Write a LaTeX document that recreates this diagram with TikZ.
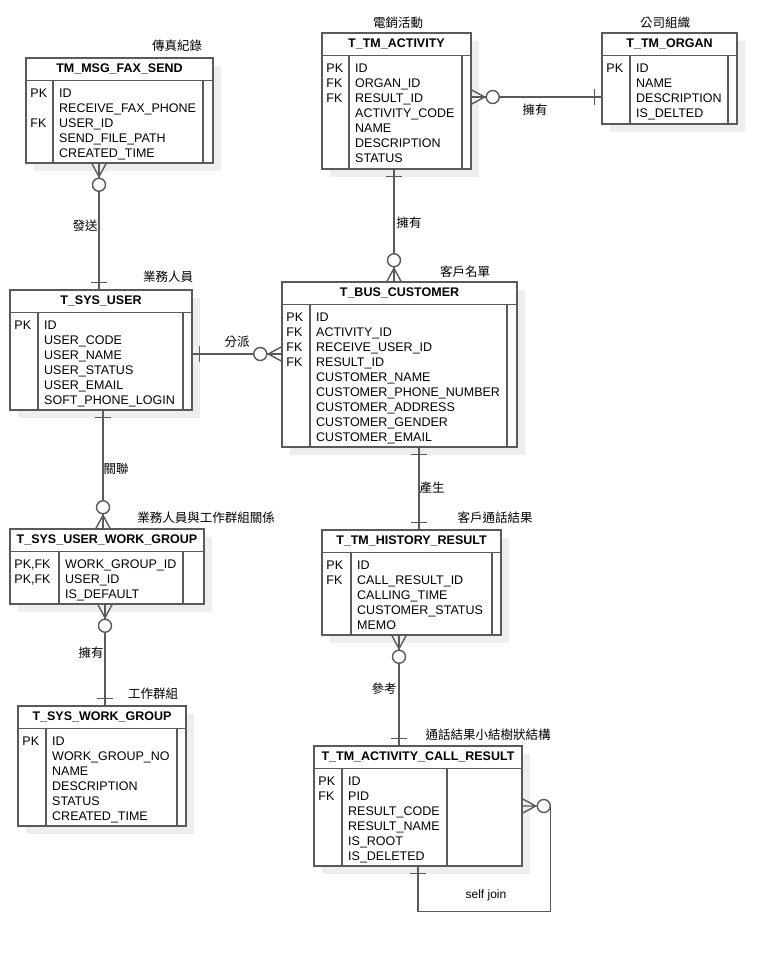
\documentclass[tikz,border=0pt]{standalone}
\usepackage{fontspec}
\setmainfont{Liberation Sans}
\newfontfamily\cjk{Noto Sans CJK TC}
\usetikzlibrary{calc, fit}
\definecolor{erline}{RGB}{90,90,90}
\definecolor{ershadow}{RGB}{238,238,238}

% one table: name, top left, bottom right, key column x, right column x, title, keys, fields
\newcommand{\ertable}[8]{%
    \fill[ershadow] ([shift={(8pt,-8pt)}]#2) rectangle ([shift={(8pt,-8pt)}]#3);
    \node[tbl, fit={(#2) (#3)}] (#1) {};
    \coordinate (#1-h) at ([yshift=-23pt]#1.north west);
    \coordinate (#1-kx) at (#4,0);
    \coordinate (#1-rx) at (#5,0);
    \draw[tbl line] (#1-h) -- (#1-h -| #1.east);
    \draw[tbl line] (#1-h -| #1-kx) -- (#1.south -| #1-kx);
    \draw[tbl line] (#1-h -| #1-rx) -- (#1.south -| #1-rx);
    \node[tbl title] (#1-t) at ([yshift=-11.5pt]#1.north) {#6};
    \node[tbl col] (#1-k) at ($(#1.north west)+(5,31)$) {#7};
    \node[tbl col] (#1-f) at ($(#1.north west -| #1-kx)+(6,31)$) {#8};
}

\begin{document}
\begin{tikzpicture}[x=1pt, y=-1pt,
    tbl/.style={draw=erline, line width=1.5pt, fill=white, inner sep=0pt},
    tbl line/.style={draw=erline, line width=1.2pt},
    tbl title/.style={font=\bfseries\fontsize{12.5}{15}\selectfont, inner sep=0pt},
    tbl col/.style={anchor=north west, inner sep=0pt, align=left, font=\fontsize{12.5}{15}\selectfont},
    rel/.style={draw=erline, line width=1.4pt},
    tag/.style={font=\cjk\fontsize{12.5}{15}\selectfont, inner sep=0pt},
    crow/.pic={\draw[rel] (0,-7) -- (13,0) -- (0,7) (0,0) -- (15,0);
               \draw[rel, fill=white] (21,0) circle [radius=6.5pt];},
    bar/.pic={\draw[rel] (7,-8) -- (7,8);}]
    \useasboundingbox (0,0) rectangle (777,953);

    \ertable{fax}{26,58}{213,163}{53}{203}{TM\_MSG\_FAX\_SEND}
        {PK\\~\\FK}
        {ID\\RECEIVE\_FAX\_PHONE\\USER\_ID\\SEND\_FILE\_PATH\\CREATED\_TIME}
    \ertable{act}{322,33}{471,169}{349}{462}{T\_TM\_ACTIVITY}
        {PK\\FK\\FK}
        {ID\\ORGAN\_ID\\RESULT\_ID\\ACTIVITY\_CODE\\NAME\\DESCRIPTION\\STATUS}
    \ertable{organ}{602,33}{737,124}{630}{728}{T\_TM\_ORGAN}
        {PK}
        {ID\\NAME\\DESCRIPTION\\IS\_DELTED}
    \ertable{user}{10,290}{192,410}{38}{183}{T\_SYS\_USER}
        {PK}
        {ID\\USER\_CODE\\USER\_NAME\\USER\_STATUS\\USER\_EMAIL\\SOFT\_PHONE\_LOGIN}
    \ertable{cust}{282,282}{517,447}{310}{507}{T\_BUS\_CUSTOMER}
        {PK\\FK\\FK\\FK}
        {ID\\ACTIVITY\_ID\\RECEIVE\_USER\_ID\\RESULT\_ID\\CUSTOMER\_NAME\\CUSTOMER\_PHONE\_NUMBER\\CUSTOMER\_ADDRESS\\CUSTOMER\_GENDER\\CUSTOMER\_EMAIL}
    \ertable{uwg}{10,529}{204,604}{59}{183}{T\_SYS\_USER\_WORK\_GROUP}
        {PK,FK\\PK,FK}
        {WORK\_GROUP\_ID\\USER\_ID\\IS\_DEFAULT}
    \ertable{wgroup}{18,706}{186,826}{46}{177}{T\_SYS\_WORK\_GROUP}
        {PK}
        {ID\\WORK\_GROUP\_NO\\NAME\\DESCRIPTION\\STATUS\\CREATED\_TIME}
    \ertable{hist}{322,530}{501,635}{351}{492}{T\_TM\_HISTORY\_RESULT}
        {PK\\FK}
        {ID\\CALL\_RESULT\_ID\\CALLING\_TIME\\CUSTOMER\_STATUS\\MEMO}
    \ertable{call}{314,746}{522,866}{342}{447}{T\_TM\_ACTIVITY\_CALL\_RESULT}
        {PK\\FK}
        {ID\\PID\\RESULT\_CODE\\RESULT\_NAME\\IS\_ROOT\\IS\_DELETED}

    % table captions
    \node[tag] (fax-c) at (177,46) {傳真紀錄};
    \node[tag] (act-c) at (398,23) {電銷活動};
    \node[tag] (organ-c) at (665,23) {公司組織};
    \node[tag] (user-c) at (168,277) {業務人員};
    \node[tag] (cust-c) at (465,272) {客戶名單};
    \node[tag] (uwg-c) at (206,518) {業務人員與工作群組關係};
    \node[tag] (hist-c) at (495,518) {客戶通話結果};
    \node[tag] (wgroup-c) at (153,694) {工作群組};
    \node[tag] (call-c) at (488,735) {通話結果小結樹狀結構};

    % relations
    \draw[rel] ([xshift=-2pt]user.north) coordinate (send-b) -- (send-b |- fax.south) coordinate (send-a);
    \draw[rel] ([yshift=4pt]act.east) coordinate (own1-a) -- (own1-a -| organ.west) coordinate (own1-b);
    \draw[rel] ([xshift=-2.5pt]act.south) coordinate (own2-a) -- (own2-a |- cust.north) coordinate (own2-b);
    \draw[rel] ([yshift=-4pt]user.east) coordinate (asg-a) -- (asg-a -| cust.west) coordinate (asg-b);
    \draw[rel] ([xshift=2pt]user.south) coordinate (link-a) -- (link-a |- uwg.north) coordinate (link-b);
    \draw[rel] ([xshift=-2pt]uwg.south) coordinate (own3-a) -- (own3-a |- wgroup.north) coordinate (own3-b);
    \draw[rel] ([xshift=19.5pt]cust.south) coordinate (gen-a) -- (gen-a |- hist.north) coordinate (gen-b);
    \draw[rel] ([xshift=-12.5pt]hist.south) coordinate (ref-a) -- (ref-a |- call.north) coordinate (ref-b);
    \draw[rel] ([xshift=27.5pt]call.east) |- ([yshift=-45pt]call.south) -- (call.south);

    \pic[rotate=-90] at (send-a) {crow};
    \pic[rotate=90] at (send-b) {bar};
    \pic at (own1-a) {crow};
    \pic[rotate=180] at (own1-b) {bar};
    \pic[rotate=-90] at (own2-a) {bar};
    \pic[rotate=90] at (own2-b) {crow};
    \pic at (asg-a) {bar};
    \pic[rotate=180] at (asg-b) {crow};
    \pic[rotate=-90] at (link-a) {bar};
    \pic[rotate=90] at (link-b) {crow};
    \pic[rotate=-90] at (own3-a) {crow};
    \pic[rotate=90] at (own3-b) {bar};
    \pic[rotate=-90] at (gen-a) {bar};
    \pic[rotate=90] at (gen-b) {bar};
    \pic[rotate=-90] at (ref-a) {crow};
    \pic[rotate=90] at (ref-b) {bar};
    \pic at (call.east) {crow};
    \pic[rotate=-90] at (call.south) {bar};

    % relation names
    \node[tag] (send-l) at (85,226) {發送};
    \node[tag] (own1-l) at (535,110) {擁有};
    \node[tag] (own2-l) at (409,223) {擁有};
    \node[tag] (asg-l) at (237,342) {分派};
    \node[tag] (link-l) at (116,469) {關聯};
    \node[tag] (own3-l) at (91,653) {擁有};
    \node[tag] (gen-l) at (432,488) {產生};
    \node[tag] (ref-l) at (384,689) {參考};
    \node[font=\fontsize{12}{14}\selectfont, inner sep=0pt] (self-l) at (486,895) {self join};
\end{tikzpicture}
\end{document}
